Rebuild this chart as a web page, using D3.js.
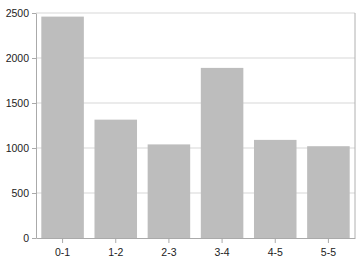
<!DOCTYPE html>
<html>
<head>
<meta charset="utf-8">
<script src="https://cdn.jsdelivr.net/npm/d3@7"></script>
<style>
  body { margin: 0; background: #fff; }
  svg { display: block; font-family: 'Open Sans', sans-serif; }
  .axis text { font-size: 10.5px; fill: #222; }
  .axis path, .axis line { stroke: #aaa; }
</style>
</head>
<body>
<svg id="chart" width="364" height="267"></svg>
<script>
const categories = ['0-1', '1-2', '2-3', '3-4', '4-5', '5-5'];
const values = [2460, 1315, 1040, 1890, 1090, 1020];
const yTicks = [0, 500, 1000, 1500, 2000, 2500];

const svg = d3.select('#chart');
const margin = { top: 13, right: 9, bottom: 29, left: 36 };
const width = 364 - margin.left - margin.right;
const height = 267 - margin.top - margin.bottom;

const g = svg.append('g')
  .attr('transform', `translate(${margin.left},${margin.top})`);

const x = d3.scaleBand()
  .domain(categories)
  .range([0, width])
  .paddingInner(0.2)
  .paddingOuter(0.1);

const y = d3.scaleLinear()
  .domain([0, 2500])
  .range([height, 0]);

// grid
g.selectAll('.grid')
  .data(yTicks.slice(1))
  .enter().append('line')
  .attr('class', 'grid')
  .attr('x1', 0)
  .attr('x2', width)
  .attr('y1', d => y(d))
  .attr('y2', d => y(d))
  .attr('stroke', '#e4e4e4')
  .attr('stroke-width', 1.5);

// right border
g.append('line')
  .attr('x1', width).attr('x2', width)
  .attr('y1', 0).attr('y2', height)
  .attr('stroke', '#b0b0b0');

g.selectAll('.bar')
  .data(values)
  .enter().append('rect')
  .attr('class', 'bar')
  .attr('x', (d, i) => x(categories[i]))
  .attr('y', d => y(d))
  .attr('width', x.bandwidth())
  .attr('height', d => height - y(d))
  .attr('fill', '#bdbdbd');

g.append('g')
  .attr('class', 'axis')
  .attr('transform', `translate(0,${height})`)
  .call(d3.axisBottom(x).tickSize(5).tickSizeOuter(0).tickPadding(6));

g.append('g')
  .attr('class', 'axis')
  .call(d3.axisLeft(y).tickValues(yTicks).tickFormat(d3.format('d'))
    .tickSize(4).tickSizeOuter(0).tickPadding(3));
</script>
</body>
</html>
